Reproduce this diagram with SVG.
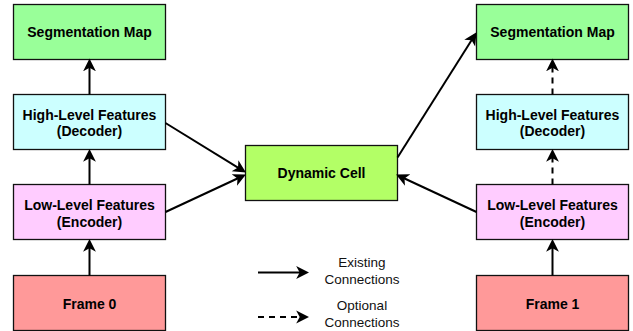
<svg xmlns="http://www.w3.org/2000/svg" width="633" height="331" viewBox="0 0 633 331">
<defs>
<style>
.box{stroke:#111;stroke-width:1.3}
.seg{fill:#99ff99}
.high{fill:#ccffff}
.low{fill:#ffccff}
.frame{fill:#ff9999}
.dyn{fill:#b3ff66}
.t{font-family:"Liberation Sans",Arial,sans-serif;font-size:14px;font-weight:bold;fill:#000;text-anchor:middle}
.lg{font-family:"Liberation Sans",Arial,sans-serif;font-size:13.5px;fill:#111;text-anchor:middle}
.c{fill:none;stroke:#000;stroke-width:2}
.d{stroke-dasharray:6 5}
</style>
<marker id="ah" markerUnits="userSpaceOnUse" markerWidth="14" markerHeight="14" viewBox="0 0 12 12" refX="5" refY="6" orient="auto">
<path d="M0,0.5 L11,6 L0,11.5 L3,6 Z" fill="#000"/>
</marker>
</defs>
<g id="seg0"><rect class="box seg" x="13.5" y="4.5" width="152" height="55"/><text class="t" x="89.5" y="37">Segmentation Map</text></g>
<g id="high0"><rect class="box high" x="13.5" y="94.5" width="152" height="55"/><text class="t" x="89.5" y="119.5">High-Level Features</text><text class="t" x="89.5" y="136">(Decoder)</text></g>
<g id="low0"><rect class="box low" x="13.5" y="184.5" width="152" height="55"/><text class="t" x="89.5" y="210">Low-Level Features</text><text class="t" x="89.5" y="226.5">(Encoder)</text></g>
<g id="frame0"><rect class="box frame" x="13.5" y="275.5" width="152" height="55"/><text class="t" x="89.5" y="309">Frame 0</text></g>
<g id="dyn"><rect class="box dyn" x="245.5" y="145.5" width="152" height="55"/><text class="t" x="321.5" y="178">Dynamic Cell</text></g>
<g id="seg1"><rect class="box seg" x="476.5" y="4.5" width="152" height="55"/><text class="t" x="552.5" y="37">Segmentation Map</text></g>
<g id="high1"><rect class="box high" x="476.5" y="94.5" width="152" height="55"/><text class="t" x="552.5" y="119.5">High-Level Features</text><text class="t" x="552.5" y="136">(Decoder)</text></g>
<g id="low1"><rect class="box low" x="476.5" y="184.5" width="152" height="55"/><text class="t" x="552.5" y="210">Low-Level Features</text><text class="t" x="552.5" y="226.5">(Encoder)</text></g>
<g id="frame1"><rect class="box frame" x="476.5" y="275.5" width="152" height="55"/><text class="t" x="552.5" y="309">Frame 1</text></g>
<g id="connectors">
<path class="c" d="M89.5,275.5 V246" marker-end="url(#ah)"/>
<path class="c" d="M89.5,184.5 V156" marker-end="url(#ah)"/>
<path class="c" d="M89.5,94.5 V65.5" marker-end="url(#ah)"/>
<path class="c" d="M165.5,123 L240,168.8" marker-end="url(#ah)"/>
<path class="c" d="M165.5,212 L239.6,177.5" marker-end="url(#ah)"/>
<path class="c" d="M397.5,157.5 L472.8,38.2" marker-end="url(#ah)"/>
<path class="c" d="M476.5,212 L402.4,177.5" marker-end="url(#ah)"/>
<path class="c" d="M552.5,275.5 V246" marker-end="url(#ah)"/>
<path class="c d" d="M552.5,184.5 V156" marker-end="url(#ah)"/>
<path class="c d" d="M552.5,94.5 V65.5" marker-end="url(#ah)"/>
</g>
<g id="legend">
<path class="c" d="M258,272.5 H302" marker-end="url(#ah)"/>
<path class="c d" d="M258,317 H302" marker-end="url(#ah)"/>
<text class="lg" x="362" y="267">Existing</text>
<text class="lg" x="362" y="284">Connections</text>
<text class="lg" x="362" y="310">Optional</text>
<text class="lg" x="362" y="327">Connections</text>
</g>
</svg>
